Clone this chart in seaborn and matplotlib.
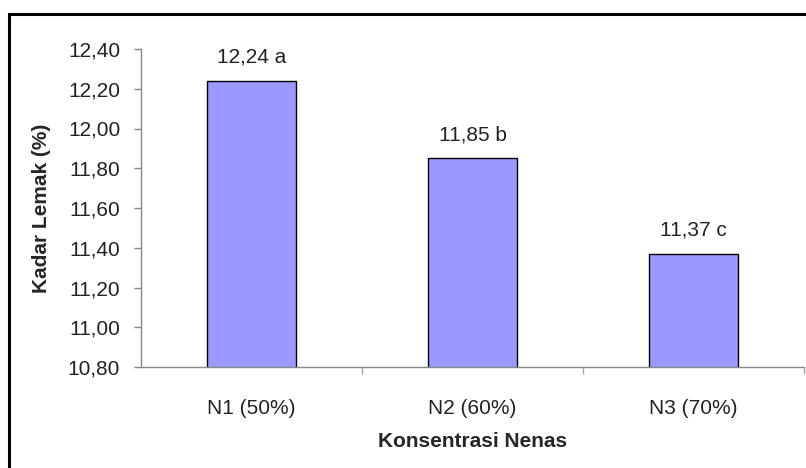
import matplotlib
matplotlib.use("Agg")
import matplotlib.pyplot as plt
from matplotlib.patches import Rectangle
from matplotlib.ticker import FuncFormatter, FixedLocator
import seaborn as sns
import pandas as pd

# Fat content by pineapple concentration
categories = ["N1 (50%)", "N2 (60%)", "N3 (70%)"]
kadar_lemak = [12.24, 11.85, 11.37]
notasi = ["a", "b", "c"]
y_ticks = [10.80, 11.00, 11.20, 11.40, 11.60, 11.80, 12.00, 12.20, 12.40]

df = pd.DataFrame({"Perlakuan": categories, "Kadar": kadar_lemak})

sns.set_theme(style="white")
plt.rcParams["font.family"] = ["Liberation Sans", "DejaVu Sans"]

FS = 15

fig = plt.figure(figsize=(8.06, 4.68), dpi=100)
ax = fig.add_axes([141 / 806, 1 - 367 / 468, 663 / 806, 318 / 468])

sns.barplot(data=df, x="Perlakuan", y="Kadar", color="#9999FF", saturation=1,
            edgecolor="black", linewidth=1.0, width=0.4, ax=ax)

ax.set_ylim(y_ticks[0], y_ticks[-1])
ax.set_xlim(-0.5, len(categories) - 0.5)
ax.yaxis.set_major_locator(FixedLocator(y_ticks))
ax.yaxis.set_major_formatter(FuncFormatter(lambda v, _: f"{v:.2f}".replace(".", ",")))

labels = [f"{v:.2f}".replace(".", ",") + f" {n}" for v, n in zip(kadar_lemak, notasi)]
ax.bar_label(ax.containers[0], labels=labels, padding=10, fontsize=FS, color="#222222")

for side in ("top", "right"):
    ax.spines[side].set_visible(False)
for side in ("left", "bottom"):
    ax.spines[side].set_color("#888888")
    ax.spines[side].set_linewidth(1.0)

ax.tick_params(axis="y", direction="out", length=5, width=1, color="#888888",
               labelsize=FS, labelcolor="#222222", left=True, pad=10)
# category separators as minor ticks on x axis
ax.set_xticks([0.5, 1.5, 2.5], minor=True)
ax.tick_params(axis="x", which="minor", direction="out", length=5, width=1,
               color="#aaaaaa", bottom=True)
ax.tick_params(axis="x", which="major", length=0, labelsize=FS,
               labelcolor="#222222", pad=23)

ax.set_xlabel("Konsentrasi Nenas", fontsize=FS, fontweight="bold", labelpad=10)
ax.set_ylabel("Kadar Lemak (%)", fontsize=FS, fontweight="bold", labelpad=12)

# outer frame of the chart area
fig.patches.append(Rectangle((9 / 806, -0.1), 1.2, 1.1 - 14.5 / 468,
                             transform=fig.transFigure, fill=False,
                             edgecolor="black", linewidth=2.2, zorder=10))

fig.savefig("out.png", dpi=100)
